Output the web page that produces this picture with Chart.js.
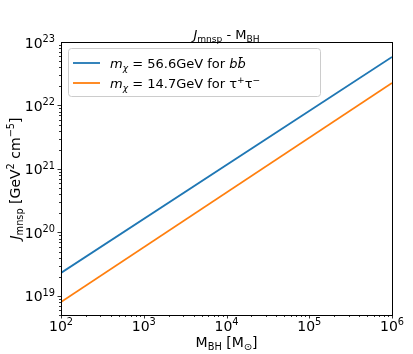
<!DOCTYPE html>
<html>
<head>
<meta charset="utf-8">
<script src="https://cdn.jsdelivr.net/npm/chart.js@4/dist/chart.umd.min.js"></script>
<style>
  html, body { margin: 0; padding: 0; background: #fff; }
  canvas { display: block; }
</style>
</head>
<body>
<canvas id="chart" width="413" height="354"></canvas>
<script>
// --- DATA ---
const massBH = [1e2, 1e6];            // M_BH [M_sun]
const jBBbar = [2.3e19, 5.8e22];      // m_chi = 56.6 GeV, b bbar
const jTauTau = [8.0e18, 2.26e22];    // m_chi = 14.7 GeV, tau+ tau-
const xTickExps = [2, 3, 4, 5, 6];
const yTickExps = [19, 20, 21, 22, 23];

const X_MIN = 1e2, X_MAX = 1e6;
const Y_MIN = 5e18, Y_MAX = 1e23;
const BLUE = "#1f77b4";
const ORANGE = "#ff7f0e";
const FONT = '"DejaVu Sans", sans-serif';

// --- RICH TEXT (mathtext-ish) ---
const partFont = (p, fs) => {
  const size = (p.sub || p.sup) ? fs * 0.7 : fs;
  return `${p.it ? "italic " : ""}${size}px ${FONT}`;
};

function richWidth(ctx, parts, fs) {
  let w = 0;
  for (const p of parts) {
    ctx.font = partFont(p, fs);
    w += ctx.measureText(p.t).width;
  }
  return w;
}

function drawRich(ctx, parts, x, y, fs, align = "left") {
  const w = richWidth(ctx, parts, fs);
  let cx = align === "center" ? x - w / 2 : align === "right" ? x - w : x;
  ctx.textAlign = "left";
  ctx.textBaseline = "alphabetic";
  for (const p of parts) {
    ctx.font = partFont(p, fs);
    const dy = p.sub ? fs * 0.22 : p.sup ? -fs * 0.42 : 0;
    ctx.fillText(p.t, cx, y + dy);
    cx += ctx.measureText(p.t).width;
  }
}

const pow10 = (e) => [{ t: "10" }, { t: String(e).replace("-", "\u2212"), sup: true }];

// --- DECORATIONS: frame, ticks, labels, title, legend ---
const decorations = {
  id: "decorations",
  afterDraw(chart) {
    const { ctx, chartArea: a, scales } = chart;
    const xs = scales.x, ys = scales.y;
    ctx.save();
    ctx.fillStyle = "#000";
    ctx.strokeStyle = "#000";

    // ticks (outward, bottom & left)
    ctx.lineWidth = 0.8;
    ctx.beginPath();
    for (let d = 2; d <= 6; d++) {
      for (let k = 1; k <= 9; k++) {
        const v = k * Math.pow(10, d);
        if (v < X_MIN || v > X_MAX) continue;
        const px = Math.round(xs.getPixelForValue(v)) + 0.5;
        const len = k === 1 ? 3.5 : 2;
        ctx.moveTo(px, a.bottom);
        ctx.lineTo(px, a.bottom + len);
      }
    }
    for (let d = 18; d <= 23; d++) {
      for (let k = 1; k <= 9; k++) {
        const v = k * Math.pow(10, d);
        if (v < Y_MIN || v > Y_MAX) continue;
        const py = Math.round(ys.getPixelForValue(v)) + 0.5;
        const len = k === 1 ? 3.5 : 2;
        ctx.moveTo(a.left, py);
        ctx.lineTo(a.left - len, py);
      }
    }
    ctx.stroke();

    // frame
    ctx.lineWidth = 1;
    ctx.strokeRect(Math.round(a.left) + 0.5, Math.round(a.top) + 0.5,
      Math.round(a.right - a.left), Math.round(a.bottom - a.top));

    // tick labels
    const tfs = 14;
    xTickExps.forEach(e => {
      drawRich(ctx, pow10(e), xs.getPixelForValue(Math.pow(10, e)), a.bottom + 16, tfs, "center");
    });
    yTickExps.forEach(e => {
      drawRich(ctx, pow10(e), a.left - 6, ys.getPixelForValue(Math.pow(10, e)) + 5.5, tfs, "right");
    });

    // axis labels
    const midX = (a.left + a.right) / 2;
    const midY = (a.top + a.bottom) / 2;
    drawRich(ctx, [{ t: "M" }, { t: "BH", sub: true }, { t: " [M" }, { t: "\u2299", sub: true }, { t: "]" }],
      midX, 347, 14, "center");
    ctx.save();
    ctx.translate(20, midY);
    ctx.rotate(-Math.PI / 2);
    drawRich(ctx, [{ t: "J", it: true }, { t: "mnsp", sub: true }, { t: " [GeV" }, { t: "2", sup: true },
      { t: " cm" }, { t: "\u22125", sup: true }, { t: "]" }], 0, 0, 14, "center");
    ctx.restore();

    // title
    drawRich(ctx, [{ t: "J", it: true }, { t: "mnsp", sub: true }, { t: " - M" }, { t: "BH", sub: true }],
      midX, a.top - 3, 13, "center");

    // legend
    const lx = 68, ly = 48, lw = 252, lh = 48;
    ctx.beginPath();
    ctx.roundRect(lx + 0.5, ly + 0.5, lw, lh, 3);
    ctx.fillStyle = "rgba(255,255,255,0.8)";
    ctx.fill();
    ctx.strokeStyle = "#cccccc";
    ctx.lineWidth = 1;
    ctx.stroke();

    const rows = [
      { color: BLUE, y: 63, parts: [{ t: "m", it: true }, { t: "\u03c7", it: true, sub: true }, { t: " = 56.6GeV for " },
        { t: "b", it: true }, { t: "b\u0304", it: true }] },
      { color: ORANGE, y: 83, parts: [{ t: "m", it: true }, { t: "\u03c7", it: true, sub: true }, { t: " = 14.7GeV for " },
        { t: "\u03c4" }, { t: "+", sup: true }, { t: "\u03c4" }, { t: "\u2212", sup: true }] },
    ];
    rows.forEach(r => {
      ctx.strokeStyle = r.color;
      ctx.lineWidth = 1.8;
      ctx.beginPath();
      ctx.moveTo(73, r.y);
      ctx.lineTo(100, r.y);
      ctx.stroke();
      ctx.fillStyle = "#000";
      drawRich(ctx, r.parts, 110, r.y + 5, 13, "left");
    });

    ctx.restore();
  }
};

// --- CHART ---
const toPoints = (xsArr, ysArr) => xsArr.map((x, i) => ({ x, y: ysArr[i] }));

new Chart(document.getElementById("chart"), {
  type: "line",
  data: {
    datasets: [
      { label: "bb", data: toPoints(massBH, jBBbar), borderColor: BLUE, borderWidth: 1.8, pointRadius: 0 },
      { label: "tautau", data: toPoints(massBH, jTauTau), borderColor: ORANGE, borderWidth: 1.8, pointRadius: 0 },
    ]
  },
  options: {
    responsive: false,
    animation: false,
    devicePixelRatio: 1,
    layout: { padding: { left: 61, right: 21, top: 42, bottom: 39 } },
    plugins: { legend: { display: false }, tooltip: { enabled: false }, title: { display: false } },
    scales: {
      x: { type: "logarithmic", min: X_MIN, max: X_MAX, display: false },
      y: { type: "logarithmic", min: Y_MIN, max: Y_MAX, display: false },
    }
  },
  plugins: [decorations]
});
</script>
</body>
</html>
